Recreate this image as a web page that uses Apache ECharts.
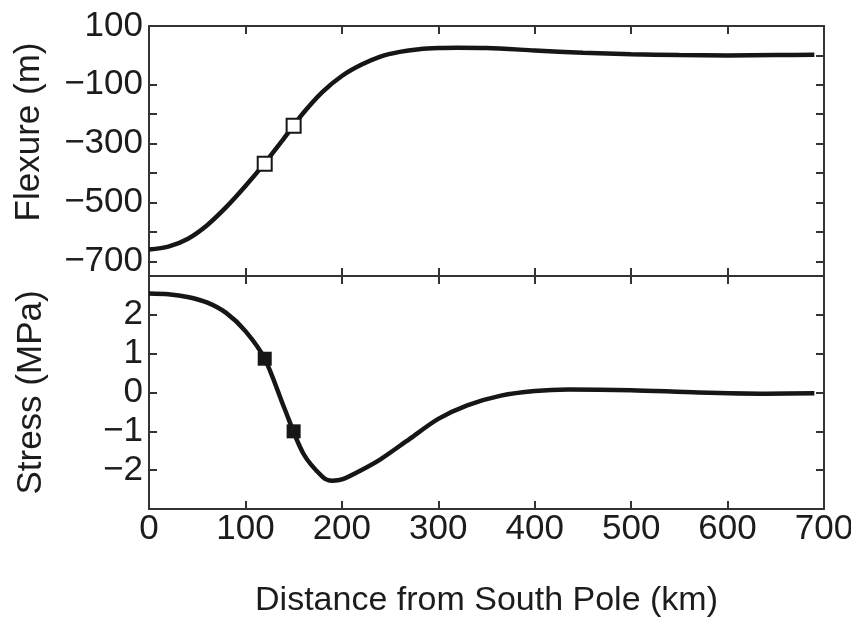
<!DOCTYPE html>
<html>
<head>
<meta charset="utf-8">
<script src="https://cdn.jsdelivr.net/npm/echarts@6/dist/echarts.min.js"></script>
<style>
html,body{margin:0;padding:0;background:#fff;}
#chart{width:851px;height:623px;}
</style>
</head>
<body>
<div id="chart"></div>
<script>
// ---- data ----
var distance = [0, 20, 40, 60, 80, 100, 120, 140, 160, 180, 200, 220, 240, 260, 280, 300, 320, 350, 400, 450, 500, 550, 600, 650, 690];
var flexure  = [-660, -650, -624, -578, -516, -444, -366, -282, -196, -124, -70, -32, -4, 12, 21, 25, 26, 25, 17, 9, 4, 1, 0, 1, 2];

var stressDistance = [0, 20, 40, 60, 80, 100, 120, 140, 160, 180, 190, 200, 220, 240, 270, 300, 330, 365, 400, 435, 500, 570, 640, 690];
var stress = [2.55, 2.53, 2.46, 2.32, 2.05, 1.58, 0.87, -0.38, -1.57, -2.17, -2.27, -2.24, -2.0, -1.72, -1.2, -0.68, -0.33, -0.08, 0.04, 0.08, 0.06, 0.0, -0.03, -0.02];

var flexureMarkers = [[120, -368], [150, -239]];
var stressMarkers = [[120, 0.87], [150, -1.0]];

var flexureTicks = [0, -100, -200, -300, -400, -500, -600, -700];
var flexureLabels = [100, 0, -100, -300, -500, -700];

var xTitle = 'Distance from South Pole (km)';
var flexTitle = 'Flexure (m)';
var stressTitle = 'Stress (MPa)';

// ---- styling ----
var FONT = '"Liberation Sans", Arial, Helvetica, sans-serif';
var INK = '#1c1c1c';
var AX = '#333';
var lineAx = {show: true, onZero: false, lineStyle: {color: AX, width: 2}};
var tickIn = {show: true, inside: true, length: 8, lineStyle: {color: AX, width: 2}};
function fmt(v){ return v < 0 ? '\u2212' + Math.abs(v) : String(v); }

function xAx(grid, pos, labels) {
  var a = {
    type: 'value', gridIndex: grid, position: pos, min: 0, max: 700, interval: 100,
    axisLine: lineAx, axisTick: tickIn, splitLine: {show: false},
    axisLabel: {show: labels, margin: 3, fontSize: 35, color: INK, fontFamily: FONT, formatter: fmt}
  };
  if (labels) {
    a.name = xTitle; a.nameLocation = 'middle'; a.nameGap = 75; a.nameMoveOverlap = false;
    a.nameTextStyle = {fontSize: 34, color: INK, fontFamily: FONT};
  }
  return a;
}

var option = {
  animation: false,
  backgroundColor: '#fff',
  grid: [
    {left: 149, right: 27, top: 26, height: 250, outerBoundsMode: 'none', containLabel: false},
    {left: 149, right: 27, top: 276, height: 233, outerBoundsMode: 'none', containLabel: false}
  ],
  xAxis: [
    xAx(0, 'bottom', false),
    xAx(0, 'top', false),
    xAx(1, 'bottom', true),
    xAx(1, 'top', false)
  ],
  yAxis: [
    {
      type: 'value', gridIndex: 0, position: 'left', min: -750, max: 100,
      axisLine: lineAx,
      axisTick: Object.assign({}, tickIn, {customValues: flexureTicks}),
      axisLabel: {customValues: flexureLabels, showMaxLabel: true, showMinLabel: true, hideOverlap: false,
                  margin: 6, fontSize: 35, color: INK, fontFamily: FONT, formatter: fmt},
      splitLine: {show: false},
      name: flexTitle, nameLocation: 'middle', nameGap: 102, nameMoveOverlap: false,
      nameTextStyle: {fontSize: 35, color: INK, fontFamily: FONT, padding: [0, 0, 0, 38]}
    },
    {
      type: 'value', gridIndex: 0, position: 'right', min: -750, max: 100,
      axisLine: lineAx,
      axisTick: Object.assign({}, tickIn, {customValues: flexureTicks}),
      axisLabel: {show: false}, splitLine: {show: false}
    },
    {
      type: 'value', gridIndex: 1, position: 'left', min: -3, max: 3, interval: 1,
      axisLine: lineAx, axisTick: tickIn,
      axisLabel: {showMinLabel: false, showMaxLabel: false, margin: 6, fontSize: 35, color: INK, fontFamily: FONT, formatter: fmt},
      splitLine: {show: false},
      name: stressTitle, nameLocation: 'middle', nameGap: 100, nameMoveOverlap: false,
      nameTextStyle: {fontSize: 35, color: INK, fontFamily: FONT}
    },
    {
      type: 'value', gridIndex: 1, position: 'right', min: -3, max: 3, interval: 1,
      axisLine: lineAx, axisTick: tickIn,
      axisLabel: {show: false}, splitLine: {show: false}
    }
  ],
  series: [
    {
      type: 'line', xAxisIndex: 0, yAxisIndex: 0, smooth: 0.3, showSymbol: false,
      data: distance.map(function(d, i){ return [d, flexure[i]]; }),
      lineStyle: {color: '#161616', width: 4.5}, z: 2
    },
    {
      type: 'scatter', xAxisIndex: 0, yAxisIndex: 0, symbol: 'rect', symbolSize: 14,
      data: flexureMarkers,
      itemStyle: {color: '#fff', borderColor: '#161616', borderWidth: 2, opacity: 1}, z: 5
    },
    {
      type: 'line', xAxisIndex: 2, yAxisIndex: 2, smooth: 0.3, showSymbol: false,
      data: stressDistance.map(function(d, i){ return [d, stress[i]]; }),
      lineStyle: {color: '#161616', width: 4.5}, z: 2
    },
    {
      type: 'scatter', xAxisIndex: 2, yAxisIndex: 2, symbol: 'rect', symbolSize: 14,
      data: stressMarkers,
      itemStyle: {color: '#161616', opacity: 1}, z: 5
    }
  ]
};

var chart = echarts.init(document.getElementById('chart'), null, {renderer: 'canvas'});
chart.setOption(option);
</script>
</body>
</html>
